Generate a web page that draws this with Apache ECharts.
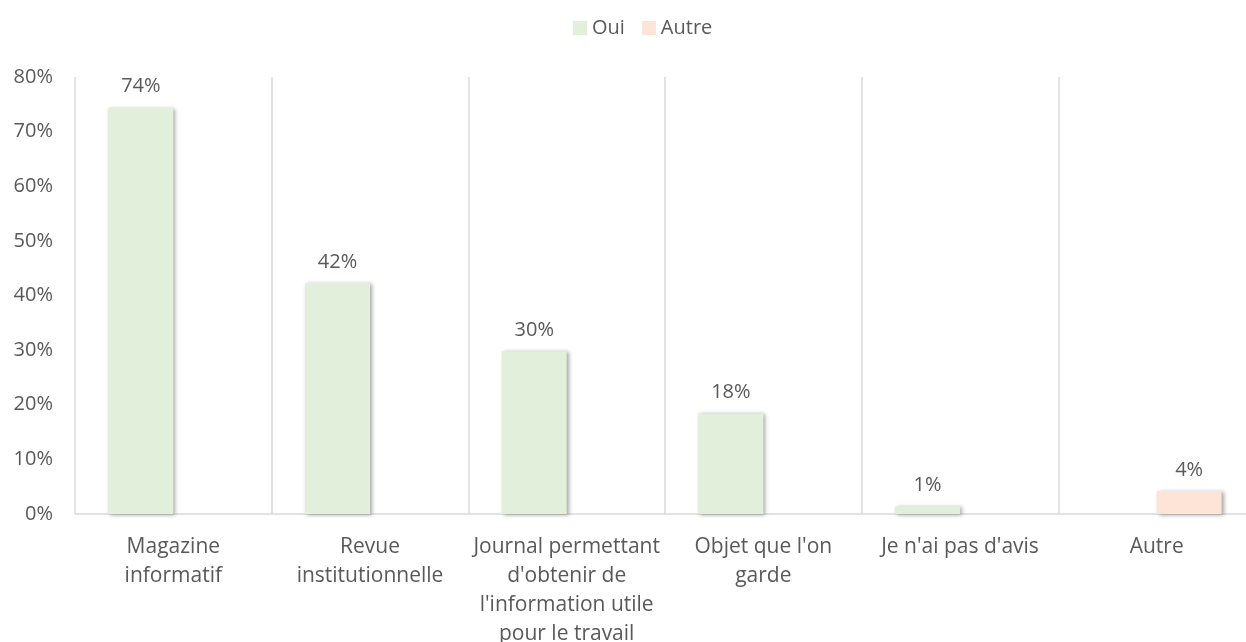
<!DOCTYPE html>
<html>
<head>
<meta charset="utf-8">
<script src="https://cdn.jsdelivr.net/npm/echarts@6/dist/echarts.min.js"></script>
<style>
  html, body { margin: 0; padding: 0; background: #fff; }
  #chart { width: 1246px; height: 642px; }
</style>
</head>
<body>
<div id="chart"></div>
<script>
// données
const categories = [
  'Magazine\ninformatif',
  'Revue\ninstitutionnelle',
  'Journal permettant\nd\'obtenir de\nl\'information utile\npour le travail',
  'Objet que l\'on\ngarde',
  'Je n\'ai pas d\'avis',
  'Autre'
]
const ouiValues = [74.4, 42.3, 29.8, 18.4, 1.4, '-']
const autreValues = ['-', '-', '-', '-', '-', 4.2]
const yTicks = [0, 10, 20, 30, 40, 50, 60, 70, 80]

const textColor = '#595959'
const fontFamily = 'Open Sans'

const chart = echarts.init(document.getElementById('chart'))

const barShadow = {
  shadowColor: 'rgba(0,0,0,0.35)',
  shadowBlur: 4,
  shadowOffsetX: 2,
  shadowOffsetY: 1
}

const labelStyle = {
  show: true,
  position: 'top',
  distance: 11,
  color: textColor,
  fontFamily: fontFamily,
  fontSize: 20,
  formatter: p => Math.round(p.value) + '%'
}

const option = {
  animation: false,
  textStyle: { fontFamily: fontFamily },
  legend: {
    top: 13,
    left: 568,
    itemWidth: 14,
    itemHeight: 14,
    itemGap: 17,
    icon: 'rect',
    textStyle: { color: textColor, fontSize: 20 },
    data: ['Oui', 'Autre']
  },
  grid: {
    left: 75,
    top: 77,
    width: 1180,
    height: 437,
    containLabel: false,
    outerBoundsMode: 'none'
  },
  xAxis: {
    type: 'category',
    data: categories,
    axisLine: { lineStyle: { color: '#D9D9D9', width: 1.5 } },
    axisTick: { show: false },
    splitLine: { show: true, interval: 0, lineStyle: { color: '#D9D9D9', width: 1.5 } },
    axisLabel: {
      interval: 0,
      color: textColor,
      fontSize: 21,
      lineHeight: 29,
      margin: 19
    }
  },
  yAxis: {
    type: 'value',
    min: yTicks[0],
    max: yTicks[yTicks.length - 1],
    interval: 10,
    axisLine: { show: false },
    axisTick: { show: false },
    splitLine: { show: false },
    axisLabel: {
      color: textColor,
      fontSize: 20,
      margin: 22,
      formatter: v => v + '%'
    }
  },
  series: [
    {
      name: 'Oui',
      type: 'bar',
      data: ouiValues,
      barGap: '0%',
      barCategoryGap: '34%',
      itemStyle: Object.assign({ color: '#E2EFDA' }, barShadow),
      label: labelStyle
    },
    {
      name: 'Autre',
      type: 'bar',
      data: autreValues,
      itemStyle: Object.assign({ color: '#FCE4D6' }, barShadow),
      label: labelStyle
    }
  ]
}

chart.setOption(option)
</script>
</body>
</html>
